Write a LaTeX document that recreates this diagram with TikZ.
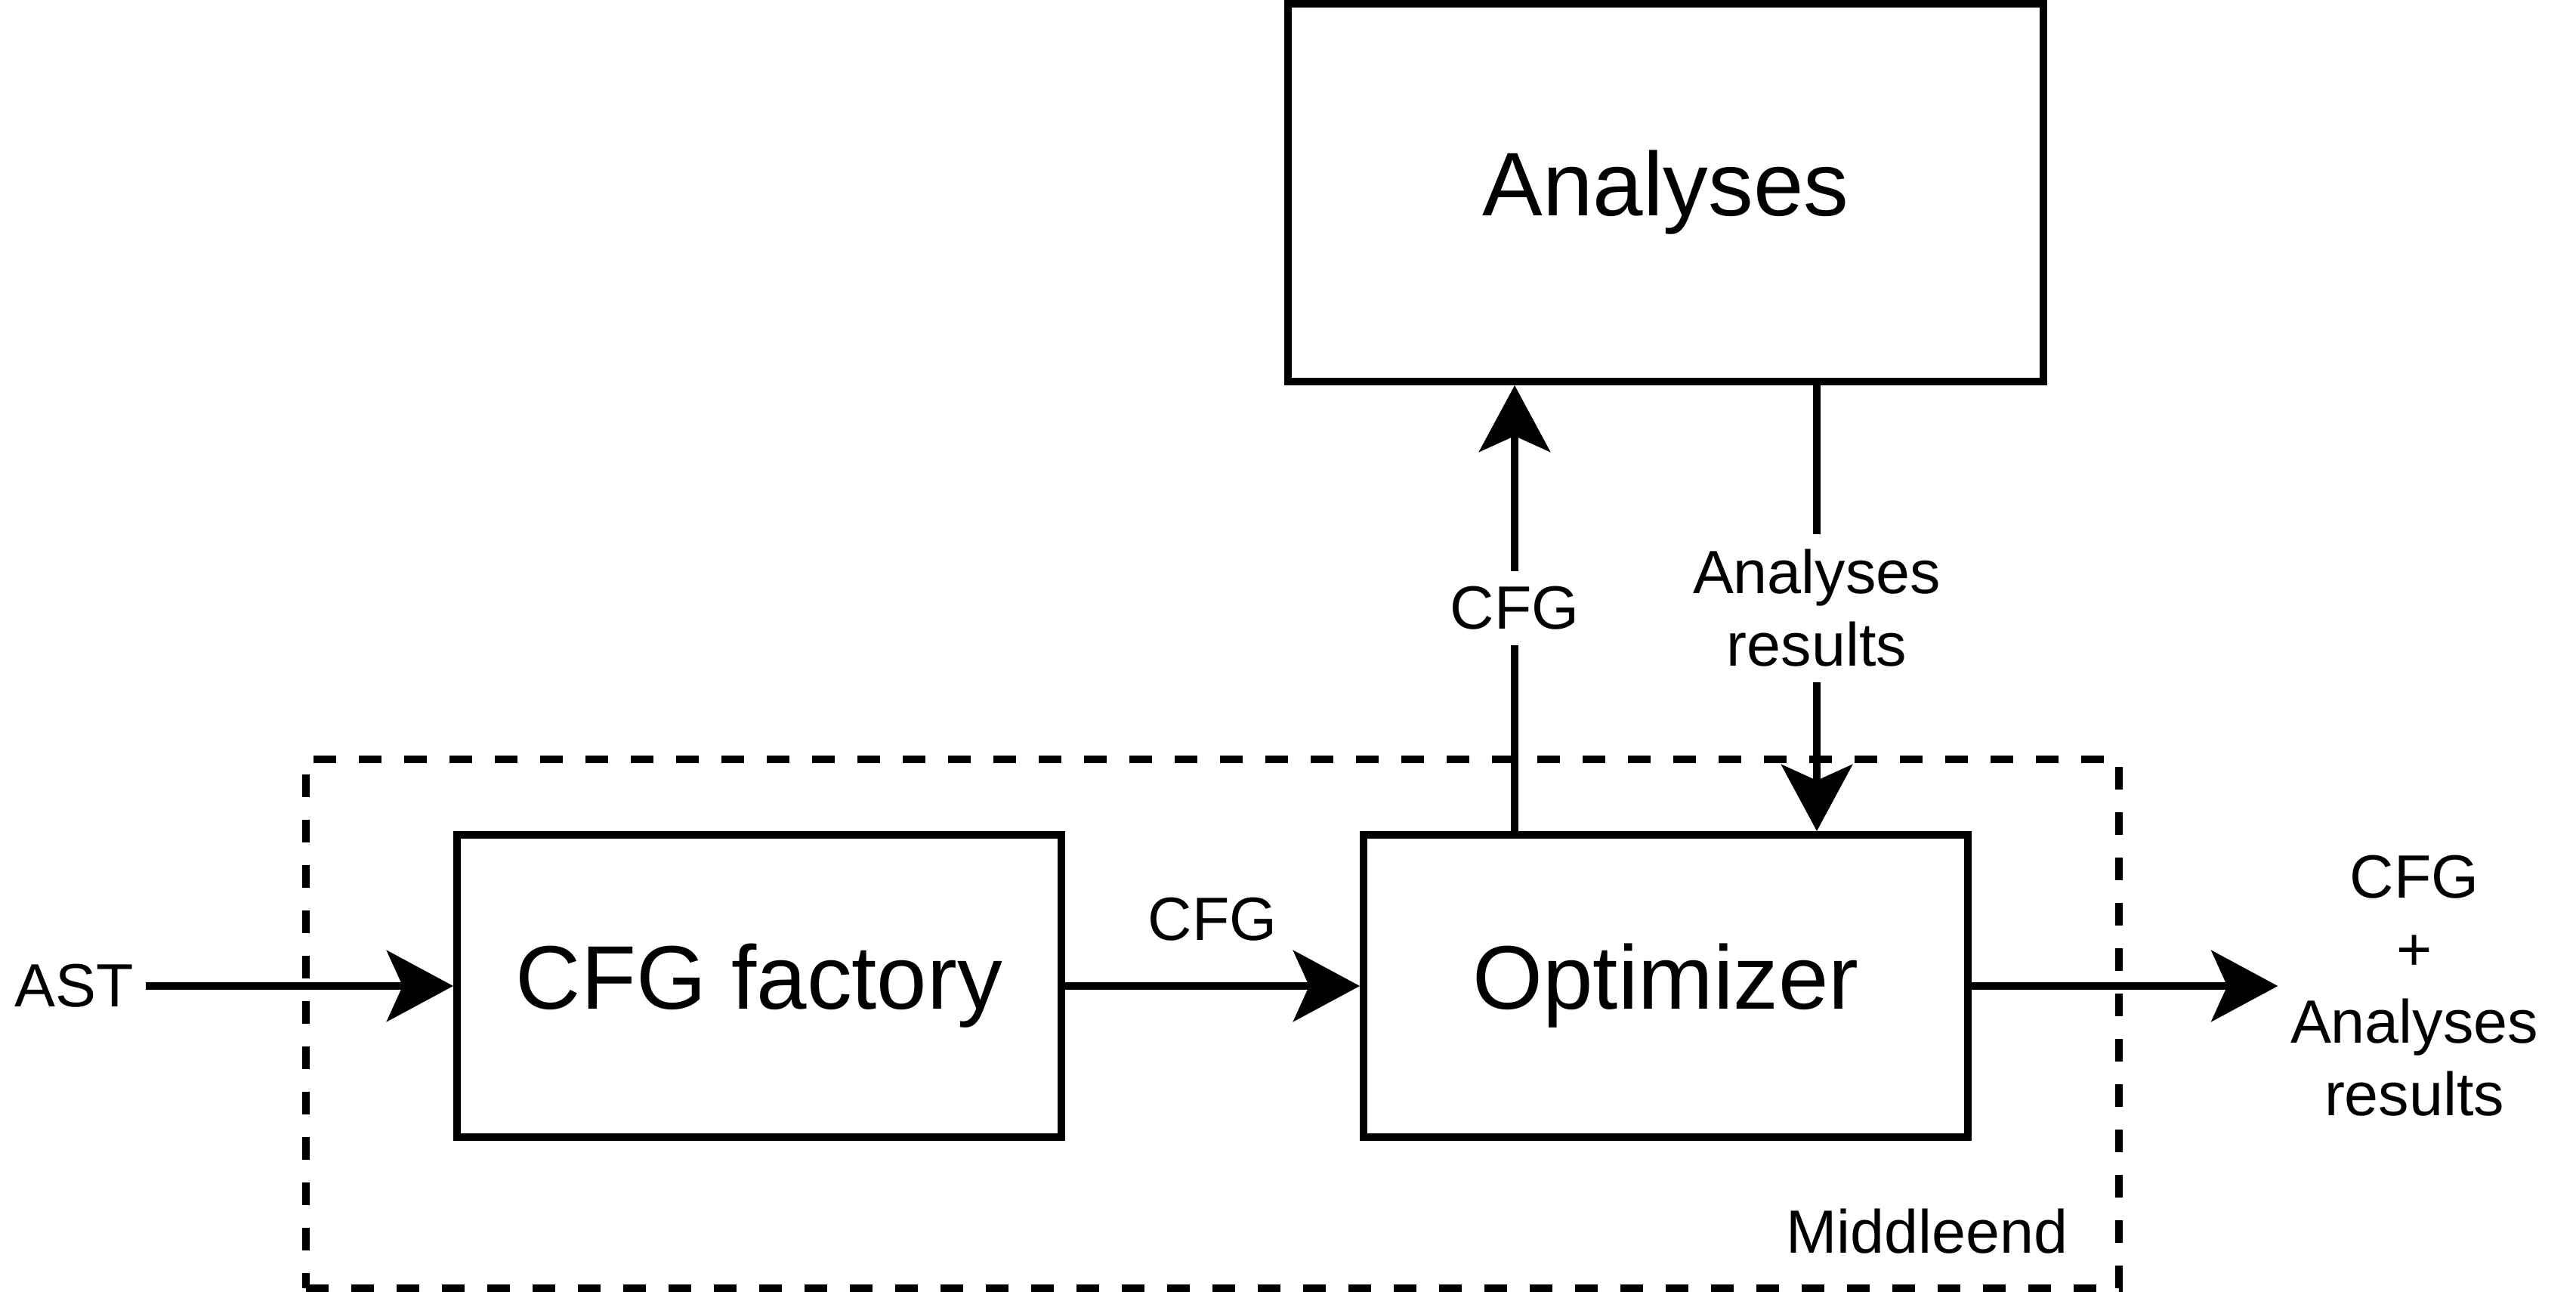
\documentclass[tikz,border=0pt]{standalone}
\usepackage{fontspec}
\setmainfont{Liberation Sans}
\usetikzlibrary{arrows.meta, positioning}
\tikzstyle{block}=[draw,fill=white,rectangle,minimum width=8cm,minimum height=4cm,font=\fontsize{34}{41}\selectfont]
\tikzstyle{frame}=[draw,rectangle,dash pattern=on 3mm off 3mm,minimum width=24cm,minimum height=7cm]
\tikzstyle{every node}=[font=\fontsize{23}{27.3}\selectfont]

\begin{document}
\begin{tikzpicture}[auto,>={Stealth[length=8.8mm,width=9.4mm,inset=2.1mm]},line width=1mm]
  \useasboundingbox (0,0) rectangle (34.1,-17.1);
  \node[frame] (middle) at (16.05,-13.55) {};
  \node[anchor=base east] (midname) at (27.54,-16.58) {Middleend};
  \node[block] (factory) at (10.05,-13.05) {CFG factory};
  \node[block, right of=factory, node distance=12cm] (opt) {Optimizer};
  \node[block, above of=opt, node distance=10.5cm, minimum width=10cm, minimum height=5cm] (ana) {Analyses};
  \node[left of=factory, node distance=9.07cm] (ast) {AST};
  \node[right of=opt, node distance=9.91cm, align=center] (out) {CFG\\+\\Analyses\\results};
  \draw[->] (ast) -- (factory);
  \draw[->] (factory) -- node[above=4.3mm] {CFG} (opt);
  \draw[->] ([xshift=-2cm]opt.north) -- node[anchor=center, fill=white, inner sep=2mm] {CFG} ([xshift=-2cm]ana.south);
  \draw[->] ([xshift=2cm]ana.south) -- node[anchor=center, fill=white, inner sep=2mm, align=center] {Analyses\\results} ([xshift=2cm]opt.north);
  \draw[->] (opt) -- (out);
\end{tikzpicture}
\end{document}
